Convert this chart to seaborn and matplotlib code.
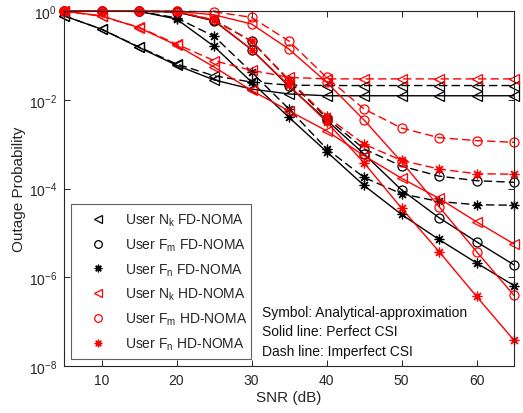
import numpy as np
import pandas as pd
import seaborn as sns
import matplotlib
matplotlib.use("Agg")
import matplotlib.pyplot as plt
from matplotlib.lines import Line2D
from matplotlib.ticker import NullLocator, FixedLocator, LogFormatterMathtext

# ---------------- data ----------------
snr = [5, 10, 15, 20, 25, 30, 35, 40, 45, 50, 55, 60, 65]

fd_nk_perfect   = [0.78, 0.39, 0.151, 0.060, 0.028, 0.0174, 0.0135, 0.0123, 0.0123, 0.0123, 0.0123, 0.0123, 0.0123]
fd_nk_imperfect = [0.78, 0.39, 0.155, 0.064, 0.0347, 0.025, 0.0214, 0.0209, 0.0209, 0.0209, 0.0209, 0.0209, 0.0209]
fd_fm_perfect   = [0.99, 0.99, 0.99, 0.95, 0.60, 0.135, 0.020, 0.0035, 6.0e-4, 9.3e-5, 2.2e-5, 6.3e-6, 1.9e-6]
fd_fm_imperfect = [0.99, 0.99, 0.99, 0.95, 0.62, 0.21, 0.027, 0.0039, 7.8e-4, 3.2e-4, 1.9e-4, 1.5e-4, 1.38e-4]
fd_fn_perfect   = [0.99, 0.99, 0.98, 0.66, 0.16, 0.025, 0.004, 6.8e-4, 1.17e-4, 2.6e-5, 7.1e-6, 2.1e-6, 6.5e-7]
fd_fn_imperfect = [0.99, 0.99, 0.98, 0.70, 0.27, 0.042, 0.0062, 7.9e-4, 1.78e-4, 7.6e-5, 5.1e-5, 4.3e-5, 4.2e-5]

hd_nk_perfect   = [0.99, 0.78, 0.42, 0.17, 0.055, 0.0162, 0.0056, 0.0020, 5.5e-4, 1.7e-4, 6.0e-5, 1.78e-5, 5.6e-6]
hd_nk_imperfect = [0.99, 0.76, 0.43, 0.18, 0.076, 0.046, 0.032, 0.0295, 0.0295, 0.0295, 0.0295, 0.0295, 0.0295]
hd_fm_perfect   = [0.99, 0.99, 0.99, 0.99, 0.82, 0.51, 0.138, 0.025, 3.5e-3, 4.0e-4, 3.9e-5, 3.8e-6, 3.9e-7]
hd_fm_imperfect = [0.99, 0.99, 0.99, 0.99, 0.96, 0.72, 0.21, 0.032, 6.2e-3, 2.3e-3, 1.4e-3, 1.2e-3, 1.1e-3]
hd_fn_perfect   = [0.99, 0.99, 0.99, 0.97, 0.62, 0.135, 0.021, 0.0032, 3.8e-4, 3.6e-5, 3.8e-6, 3.7e-7, 3.8e-8]
hd_fn_imperfect = [0.99, 0.99, 0.99, 0.97, 0.63, 0.21, 0.028, 0.0042, 1.0e-3, 4.3e-4, 2.75e-4, 2.15e-4, 2.1e-4]

legend_labels = ["User N$_k$ FD-NOMA", "User F$_m$ FD-NOMA", "User F$_n$ FD-NOMA",
                 "User N$_k$ HD-NOMA", "User F$_m$ HD-NOMA", "User F$_n$ HD-NOMA"]
notes = ["Symbol: Analytical-approximation", "Solid line: Perfect CSI", "Dash line: Imperfect CSI"]

# ---------------- style ----------------
sns.set_theme(style="ticks")
plt.rcParams["font.family"] = ["Liberation Sans", "DejaVu Sans"]
plt.rcParams["mathtext.fontset"] = "custom"
plt.rcParams["mathtext.rm"] = "Liberation Sans"
plt.rcParams["mathtext.it"] = "Liberation Sans"
plt.rcParams["mathtext.default"] = "regular"

fig = plt.figure(figsize=(5.23, 4.14), dpi=100)
ax = fig.add_axes([64 / 523, 47 / 414, 450 / 523, 355 / 414])

star = (8, 2, 0)
series = [
    (fd_nk_perfect, "black", "-", "<"), (fd_nk_imperfect, "black", "--", "<"),
    (fd_fm_perfect, "black", "-", "o"), (fd_fm_imperfect, "black", "--", "o"),
    (fd_fn_perfect, "black", "-", star), (fd_fn_imperfect, "black", "--", star),
    (hd_nk_perfect, "red", "-", "<"), (hd_nk_imperfect, "red", "--", "<"),
    (hd_fm_perfect, "red", "-", "o"), (hd_fm_imperfect, "red", "--", "o"),
    (hd_fn_perfect, "red", "-", star), (hd_fn_imperfect, "red", "--", star),
]

for vals, col, ls, mk in series:
    df = pd.DataFrame({"snr": snr, "p": vals})
    n_before = len(ax.lines)
    sns.lineplot(data=df, x="snr", y="p", ax=ax, color=col, marker=mk,
                 markersize=7 if mk == star else 6.5,
                 markerfacecolor="none" if mk != star else col,
                 markeredgecolor=col, markeredgewidth=0.9, linewidth=1.0,
                 errorbar=None, legend=False, clip_on=False)
    for ln in ax.lines[n_before:]:
        if ls == "--":
            ln.set_dashes([6, 3])
        else:
            ln.set_linestyle("-")

ax.set_yscale("log")
ax.set_xlim(5, 65)
ax.set_ylim(1e-8, 1)
ax.xaxis.set_major_locator(FixedLocator([10, 20, 30, 40, 50, 60]))
ax.yaxis.set_major_locator(FixedLocator([1e-8, 1e-6, 1e-4, 1e-2, 1]))
ax.yaxis.set_major_formatter(LogFormatterMathtext())
ax.yaxis.set_minor_locator(NullLocator())
ax.xaxis.set_minor_locator(NullLocator())
ax.tick_params(direction="in", top=True, right=True, length=4, width=0.7,
               labelsize=10, colors="#262626", pad=5)
for sp in ax.spines.values():
    sp.set_visible(True)
    sp.set_linewidth(0.8)
    sp.set_color("#262626")

ax.set_xlabel("SNR (dB)", fontsize=11, color="#262626", labelpad=2)
ax.set_ylabel("Outage Probability", fontsize=11, color="#262626", labelpad=2)

# legend with markers only
handles = []
for col in ["black", "red"]:
    for mk in ["<", "o", star]:
        handles.append(Line2D([], [], linestyle="none", marker=mk, color=col,
                              markerfacecolor="none" if mk != star else col,
                              markeredgecolor=col, markersize=5.5, markeredgewidth=0.9))
leg = ax.legend(handles, legend_labels, loc="lower left", mode="expand",
                bbox_to_anchor=(7 / 450, 7 / 355, 180 / 450, 154 / 355),
                borderaxespad=0, fontsize=10, frameon=True, fancybox=False,
                labelspacing=0.6, handletextpad=0.6, borderpad=0.52,
                handlelength=2.8)
leg.get_frame().set_edgecolor("#3a3a3a")
leg.get_frame().set_linewidth(0.8)

for i, t in enumerate(notes):
    ax.text((262 - 64) / 450, (367 - 313 - i * 19.3) / 355, t, transform=ax.transAxes,
            fontsize=10, va="center", ha="left", color="#111111")

fig.savefig("out.png", dpi=100)
